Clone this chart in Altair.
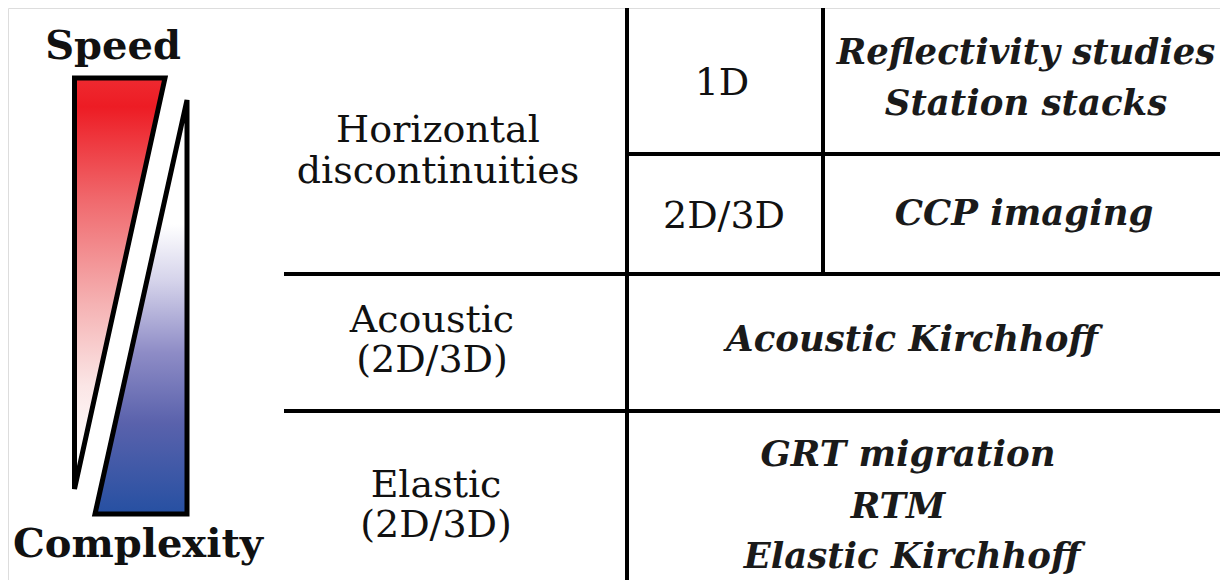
import altair as alt
import pandas as pd

# ---- data (page-pixel coordinate system) ----
# triangles: polygon described as horizontal areas (y, x_left, x_right)
red_y = [78, 489]
red_x1 = [74.5, 74.5]
red_x2 = [165, 74.5]

blue_y = [100, 514]
blue_x1 = [187, 95]
blue_x2 = [187, 187]

# table rules
rule_x1 = [627, 823, 627, 284, 284]
rule_x2 = [627, 823, 1220, 1220, 1220]
rule_y1 = [8, 8, 154, 274, 411]
rule_y2 = [580, 273, 154, 274, 411]

# plain (roman) labels
roman_text = ["Horizontal", "discontinuities", "1D", "2D/3D",
              "Acoustic", "(2D/3D)", "Elastic", "(2D/3D)"]
roman_x = [438, 438, 722, 724, 432, 432, 436, 436]
roman_y = [142, 183, 95, 228, 332, 372, 497, 537]

# bold upright labels
bold_text = ["Speed", "Complexity"]
bold_x = [113, 138]
bold_y = [59, 557]

# bold italic method labels
method_text = ["Reflectivity studies", "Station stacks", "CCP imaging",
               "Acoustic Kirchhoff", "GRT migration", "RTM", "Elastic Kirchhoff"]
method_x = [1026, 1026, 1024, 912, 908, 898, 912]
method_y = [64, 115, 225, 351, 466, 518, 568]

W, H = 1212, 572
xs = alt.Scale(domain=[8, 8 + W], nice=False, zero=False)
ys = alt.Scale(domain=[8, 8 + H], nice=False, zero=False, reverse=True)

def X(f, **kw):
    return alt.X(f, type="quantitative", scale=xs, axis=None, **kw)

def Y(f, **kw):
    return alt.Y(f, type="quantitative", scale=ys, axis=None, **kw)

red_df = pd.DataFrame({"y": red_y, "x": red_x1, "x2": red_x2})
blue_df = pd.DataFrame({"y": blue_y, "x": blue_x1, "x2": blue_x2})
rules_df = pd.DataFrame({"x": rule_x1, "x2": rule_x2, "y": rule_y1, "y2": rule_y2})
roman_df = pd.DataFrame({"t": roman_text, "x": roman_x, "y": roman_y})
bold_df = pd.DataFrame({"t": bold_text, "x": bold_x, "y": bold_y})
method_df = pd.DataFrame({"t": method_text, "x": method_x, "y": method_y})

red_grad = alt.Gradient(
    gradient="linear", x1=0, y1=0, x2=0, y2=1,
    stops=[alt.GradientStop(color="#EE2A30", offset=0),
           alt.GradientStop(color="#ED1C24", offset=0.07),
           alt.GradientStop(color="#F06A6E", offset=0.3),
           alt.GradientStop(color="#F5B2B3", offset=0.55),
           alt.GradientStop(color="#FBE6E6", offset=0.75),
           alt.GradientStop(color="#FFFFFF", offset=0.92),
           alt.GradientStop(color="#FFFFFF", offset=1)])
blue_grad = alt.Gradient(
    gradient="linear", x1=0, y1=0, x2=0, y2=1,
    stops=[alt.GradientStop(color="#FFFFFF", offset=0),
           alt.GradientStop(color="#FFFFFF", offset=0.3),
           alt.GradientStop(color="#D4D2EA", offset=0.44),
           alt.GradientStop(color="#8E8CC6", offset=0.61),
           alt.GradientStop(color="#5A62AC", offset=0.78),
           alt.GradientStop(color="#2650A2", offset=1)])

red = alt.Chart(red_df).mark_area(
    orient="horizontal", fill=red_grad, stroke="black", strokeWidth=5,
    strokeJoin="miter", strokeMiterLimit=4, clip=False
).encode(y=Y("y"), x=X("x"), x2="x2")

blue = alt.Chart(blue_df).mark_area(
    orient="horizontal", fill=blue_grad, stroke="black", strokeWidth=5,
    strokeJoin="miter", strokeMiterLimit=4, clip=False
).encode(y=Y("y"), x=X("x"), x2="x2")

rules = alt.Chart(rules_df).mark_rule(color="black", strokeWidth=4, clip=False).encode(
    x=X("x"), x2="x2", y=Y("y"), y2="y2")

serif = "DejaVu Serif"
roman = alt.Chart(roman_df).mark_text(
    font=serif, fontSize=38, color="#111111", align="center", baseline="alphabetic"
).encode(x=X("x"), y=Y("y"), text="t:N")

bold = alt.Chart(bold_df).mark_text(
    font=serif, fontSize=40, fontWeight="bold", color="#111111",
    align="center", baseline="alphabetic"
).encode(x=X("x"), y=Y("y"), text="t:N")

methods = alt.Chart(method_df).mark_text(
    font=serif, fontSize=35.5, fontWeight="bold", fontStyle="italic", color="#1a1a1a",
    align="center", baseline="alphabetic"
).encode(x=X("x"), y=Y("y"), text="t:N")

chart = alt.layer(red, blue, rules, roman, bold, methods).properties(
    width=W, height=H, padding=0, autosize=alt.AutoSizeParams(type="none")
).configure_view(stroke="transparent", strokeWidth=0).configure(background="white")

chart.save("out.html", embed_options={"renderer": "svg", "actions": False})
